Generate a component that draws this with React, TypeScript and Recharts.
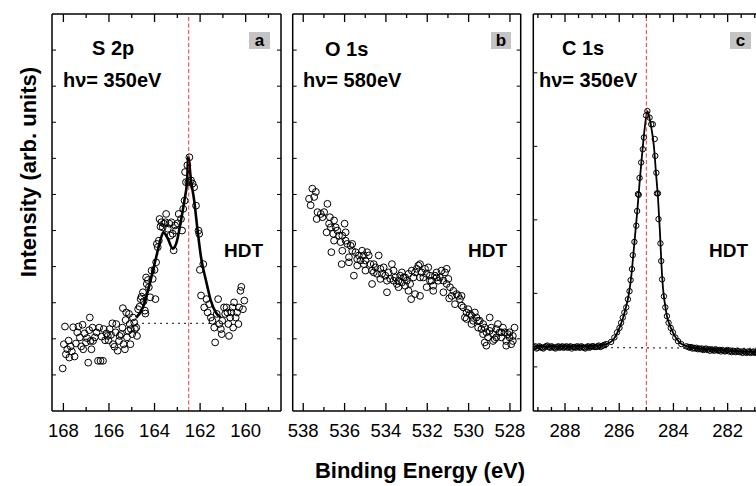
import React from 'react';
import { ComposedChart, Scatter, Line, XAxis, YAxis, ReferenceLine } from 'recharts';

const FONT = '"Liberation Sans", Arial, Helvetica, sans-serif';

// ---------- Panel a : S 2p ----------
const S2P_POINTS: number[][] = [
  [168.03,1.18],[167.98,1.85],[167.93,2.34],[167.89,1.57],[167.83,1.71],[167.77,1.95],[167.74,1.48],[167.68,1.79],[167.63,1.65],[167.57,2.32],
  [167.51,1.51],[167.45,1.87],[167.39,2.18],[167.34,2.34],[167.28,2.04],[167.22,1.79],[167.16,2.39],[167.13,1.71],[167.07,2.15],[167.01,1.90],
  [166.96,2.02],[166.91,1.34],[166.87,2.24],[166.84,2.59],[166.81,1.94],[166.77,1.71],[166.72,2.31],[166.70,1.94],[166.62,2.04],[166.55,2.18],
  [166.48,1.39],[166.43,2.31],[166.37,1.39],[166.32,2.06],[166.26,1.39],[166.23,2.27],[166.17,1.96],[166.11,2.15],[166.05,2.08],[166.02,1.96],
  [165.97,2.27],[165.91,2.11],[165.85,2.43],[165.82,1.85],[165.76,1.78],[165.71,2.18],[165.68,2.41],[165.62,1.67],[165.56,1.94],[165.53,2.08],
  [165.47,2.13],[165.41,2.31],[165.39,2.85],[165.36,1.85],[165.30,1.71],[165.27,2.52],[165.24,2.73],[165.21,2.04],[165.15,2.22],[165.12,2.69],
  [165.09,2.41],[165.06,1.85],[165.04,2.27],[164.98,2.13],[164.95,2.59],[164.89,2.45],[164.86,2.27],[164.80,2.31],[164.77,2.08],
  [164.72,2.82],[164.66,2.89],[164.61,3.10],[164.57,3.17],[164.51,3.29],[164.48,3.04],[164.42,2.78],[164.40,2.70],[164.37,3.70],[164.34,3.52],
  [164.29,3.63],[164.25,3.43],[164.19,3.15],[164.13,3.89],[164.08,3.66],[164.00,3.91],[163.96,3.10],[163.93,4.12],[163.90,4.63],[163.86,4.54],
  [163.81,4.72],[163.78,5.32],[163.74,5.11],[163.70,5.23],[163.64,5.09],[163.58,5.19],[163.52,5.23],[163.49,5.46],[163.42,5.05],[163.35,5.19],
  [163.30,4.86],[163.26,5.23],[163.20,4.91],[163.16,4.45],[163.10,5.14],[163.06,5.00],[162.98,5.20],[162.94,5.46],[162.84,5.32],[162.79,5.00],
  [162.74,5.60],[162.68,5.83],[162.66,6.62],[162.62,6.34],[162.56,6.81],[162.52,6.34],[162.47,7.03],[162.40,6.39],[162.33,6.30],[162.26,6.20],
  [162.18,5.69],[162.07,5.00],[162.04,4.91],[161.86,4.07],[162.01,3.91],[161.96,3.20],[161.82,2.87],[161.72,3.10],[161.67,2.73],[161.60,2.96],
  [161.53,2.59],[161.46,2.50],[161.38,2.31],[161.34,1.90],[161.27,2.69],[161.21,3.10],[161.16,2.41],[161.09,2.27],[161.05,2.13],[161.03,2.50],
  [160.95,2.87],[160.90,2.69],[160.84,2.87],[160.80,2.73],[160.76,2.41],[160.73,2.08],[160.68,2.59],[160.63,2.73],[160.58,2.87],[160.55,2.31],
  [160.51,3.01],[160.44,2.59],[160.38,2.73],[160.32,2.41],[160.29,2.87],[160.23,3.33],[160.19,3.44],[160.12,2.82],[160.06,3.06],
];
const S2P_FIT: number[][] = [
  [164.80,2.59],[164.51,2.87],[164.29,3.33],[164.07,3.89],[163.86,4.44],[163.71,4.81],[163.61,4.95],[163.42,4.78],[163.20,4.50],[163.03,4.68],
  [162.84,5.28],[162.69,5.83],[162.57,6.39],[162.52,7.04],[162.40,6.39],[162.26,5.83],[162.11,5.00],[161.96,4.26],[161.74,3.61],[161.53,3.06],
  [161.31,2.73],[161.09,2.59],
];
const S2P_BASE: number[][] = [[164.8,2.43],[161.1,2.43]];
const S2P_TICKS = [168,167,166,165,164,163,162,161,160,159];

// ---------- Panel b : O 1s ----------
const O1S_POINTS: number[][] = [
  [537.56,6.16],[537.39,6.07],[537.72,5.88],[537.47,5.93],[537.64,5.70],[537.31,5.51],[537.15,5.46],[536.99,5.51],[537.35,5.32],[537.07,5.37],
  [536.83,5.74],[536.71,5.37],[536.87,4.95],[536.67,5.09],[536.55,4.91],[536.35,5.00],[536.27,4.86],[536.51,4.72],[536.19,4.68],[536.00,5.19],
  [535.95,4.95],[536.64,4.40],[536.11,4.44],[535.87,4.63],[535.71,4.58],[535.63,4.44],[535.79,4.26],[535.47,4.40],[535.31,4.31],[535.23,4.17],
  [535.15,4.44],[534.91,4.40],[534.83,4.31],[536.14,4.07],[535.79,4.12],[535.55,3.75],[535.39,4.03],[535.07,4.07],[534.99,3.89],[534.75,4.07],
  [534.67,3.89],[534.59,3.84],[534.35,4.31],[534.43,3.80],[534.27,3.66],[534.67,3.52],[534.11,3.98],[534.03,3.75],[533.95,3.61],[533.87,3.84],
  [533.79,3.66],[533.71,4.07],[533.63,3.89],[533.55,3.70],[533.95,3.29],[533.47,3.52],[533.39,3.61],[533.31,3.75],[533.23,3.84],[533.15,3.70],
  [533.07,3.47],[532.99,3.61],[532.91,3.33],[532.83,3.52],[532.78,3.10],[532.67,3.70],[532.59,3.84],[532.51,3.94],[532.43,4.03],[532.35,4.07],
  [532.27,3.84],[532.19,3.70],[532.11,3.94],[532.03,3.80],[531.95,3.98],[531.87,3.75],[531.79,3.61],[531.71,3.47],[531.63,3.75],[531.55,3.84],
  [531.47,3.61],[531.39,3.70],[531.31,3.89],[531.22,3.61],[531.14,3.84],[531.06,3.94],[530.98,3.66],[532.59,3.24],[532.35,3.19],[532.03,3.43],
  [531.71,3.33],[531.22,3.29],[530.90,3.43],[530.82,3.19],[530.74,3.33],[530.66,2.96],[530.58,3.24],[530.50,3.19],[530.42,3.10],[530.34,3.19],
  [530.26,2.87],[530.18,2.59],[530.10,2.73],[530.02,2.82],[529.94,2.69],[529.86,2.41],[529.78,2.50],[529.70,2.73],[529.62,2.59],[529.54,2.31],
  [529.46,2.50],[529.38,2.27],[529.30,2.13],[529.22,2.31],[529.14,2.18],[529.06,2.04],[528.98,2.59],[528.90,2.31],[528.82,2.13],[528.74,1.99],
  [528.66,2.27],[528.58,2.41],[528.50,2.18],[528.42,2.04],[528.34,2.31],[528.26,2.18],[528.18,1.94],[528.10,2.13],[528.02,2.04],[527.94,1.85],
  [527.86,2.08],[527.78,2.31],[529.22,1.90],[528.82,1.94],[527.86,1.94],[529.14,1.81],[528.18,1.81],
  [536.51,5.28],[536.75,5.19],[536.43,5.09],[536.11,4.86],[535.95,4.72],[535.63,4.63],[535.39,4.21],[535.07,4.31],[534.99,4.17],[534.59,4.07],
  [534.51,3.98],[534.27,3.94],[534.19,3.80],[533.63,3.61],[533.39,3.43],[533.23,3.56],[533.07,3.70],[532.91,3.80],[532.75,3.89],[532.35,3.70],
  [531.87,3.61],[531.55,3.70],[531.06,3.52],[530.94,3.12],[530.34,2.92],[530.10,2.55],[529.86,2.64],[529.54,2.50],[529.30,2.41],[528.98,2.22],
  [528.66,2.04],[528.42,2.18],[528.02,2.18],
];
const O1S_TICKS = [538,537,536,535,534,533,532,531,530,529,528];

// ---------- Panel c : C 1s ----------
const C1S_POINTS: number[][] = [
  [289.15,0.27],[289.10,0.28],[289.05,0.25],[289.00,0.26],[288.95,0.28],[288.90,0.27],[288.85,0.26],[288.80,0.25],[288.75,0.27],[288.70,0.28],
  [288.65,0.29],[288.60,0.27],[288.55,0.26],[288.50,0.28],[288.45,0.27],[288.40,0.26],[288.35,0.25],[288.30,0.27],[288.25,0.28],[288.20,0.26],
  [288.15,0.27],[288.10,0.28],[288.05,0.26],[288.00,0.27],[287.95,0.28],[287.90,0.26],[287.85,0.27],[287.80,0.28],[287.75,0.25],[287.70,0.27],
  [287.65,0.27],[287.60,0.26],[287.55,0.28],[287.50,0.27],[287.45,0.26],[287.40,0.28],[287.35,0.27],[287.30,0.26],[287.25,0.25],[287.20,0.27],
  [287.15,0.28],[287.10,0.26],[287.05,0.27],[287.00,0.28],[286.95,0.28],[286.90,0.27],[286.85,0.27],[286.80,0.28],[286.75,0.29],[286.70,0.27],
  [286.65,0.28],[286.60,0.29],[286.55,0.30],
  [286.48,0.31],[286.30,0.34],[286.18,0.40],[286.08,0.47],[285.99,0.53],[285.93,0.60],[285.87,0.67],[285.81,0.74],[285.74,0.81],[285.68,0.92],
  [285.62,1.03],[285.58,1.18],[285.53,1.33],[285.50,1.52],[285.44,1.70],[285.37,1.92],[285.34,2.12],[285.28,2.34],[285.31,2.35],[285.25,2.57],
  [285.19,2.78],[285.13,2.96],[285.09,3.12],[285.01,3.42],[284.96,3.48],[284.88,3.39],[284.82,3.30],[284.76,3.30],[284.69,3.10],[284.67,2.87],
  [284.63,2.64],[284.57,2.36],[284.61,2.36],[284.55,2.01],[284.48,1.68],[284.45,1.44],[284.42,1.19],[284.35,0.96],[284.30,0.81],[284.24,0.69],
  [284.18,0.60],[284.10,0.53],[284.02,0.47],[283.93,0.40],[283.83,0.35],[283.71,0.31],[283.52,0.28],
  [283.45,0.27],[283.40,0.26],[283.35,0.27],[283.30,0.25],[283.25,0.26],[283.20,0.25],[283.15,0.26],[283.10,0.24],[283.05,0.25],[283.00,0.24],
  [282.95,0.25],[282.90,0.23],[282.85,0.24],[282.80,0.25],[282.75,0.23],[282.70,0.24],[282.65,0.22],[282.60,0.24],[282.55,0.23],[282.50,0.22],
  [282.45,0.24],[282.40,0.23],[282.35,0.22],[282.30,0.23],[282.25,0.21],[282.20,0.23],[282.15,0.22],[282.10,0.21],[282.05,0.22],[282.00,0.23],
  [281.95,0.21],[281.90,0.22],[281.85,0.20],[281.80,0.22],[281.75,0.21],[281.70,0.20],[281.65,0.22],[281.60,0.21],[281.55,0.20],[281.50,0.21],
  [281.45,0.19],[281.40,0.21],[281.35,0.20],[281.30,0.19],[281.25,0.21],[281.20,0.20],[281.15,0.19],[281.10,0.20],[281.05,0.21],[281.00,0.19],
  [280.95,0.20],[280.90,0.19],[280.85,0.20],
];
const C1S_FIT: number[][] = [
  [289.17,0.28],[288,0.28],[287,0.285],[286.6,0.30],[286.4,0.32],[286.2,0.38],[286.05,0.48],[285.9,0.62],[285.78,0.77],[285.65,0.98],
  [285.55,1.25],[285.45,1.65],[285.35,2.05],[285.25,2.50],[285.15,2.92],[285.05,3.28],[284.96,3.48],[284.88,3.38],[284.8,3.22],[284.72,3.00],
  [284.64,2.62],[284.57,2.30],[284.5,1.85],[284.44,1.38],[284.38,1.05],[284.31,0.85],[284.24,0.69],[284.15,0.58],[284.02,0.47],[283.88,0.38],
  [283.7,0.31],[283.4,0.27],[283,0.25],[282.5,0.23],[282,0.22],[281.5,0.21],[280.74,0.20],
];
const C1S_BASE: number[][] = [[289.17,0.27],[280.74,0.25]];
const C1S_TICKS = [289,288.5,288,287.5,287,286.5,286,285.5,285,284.5,284,283.5,283,282.5,282,281.5,281];

const AB_YTICKS = [1,2,3,4,5,6,7,8,9,10];
const C_YTICKS = [0,1,2,3,4];

const toPts = (arr: number[][]) => arr.map(([x, y]) => ({ x, y }));

const PLOT_TOP = 14;
const PLOT_BOTTOM = 411;
const H = 486;

type PanelCfg = {
  chartW: number;
  left: number;
  right: number;
  domain: [number, number];
  yDomain: [number, number];
  xTicks: number[];
  yTicks: number[];
  majorStep: number;
  points: { x: number; y: number }[];
  fit?: { x: number; y: number }[];
  base?: { x: number; y: number }[];
  marker?: number;
  r: number;
  fitWidth: number;
};

const isMajor = (v: number, step: number) => Math.abs(v / step - Math.round(v / step)) < 1e-6;

function makeBottomTick(step: number) {
  return (props: any) => {
    const { x, payload } = props;
    const y = PLOT_BOTTOM;
    const major = isMajor(payload.value, step);
    return (
      <g>
        <line x1={x} x2={x} y1={y} y2={y - (major ? 8 : 4)} stroke="#000" strokeWidth={1.3} />
        {major && (
          <text x={x} y={y + 26} textAnchor="middle" fontSize={18.5} fontFamily={FONT} fill="#000">
            {payload.value}
          </text>
        )}
      </g>
    );
  };
}
function makeTopTick(step: number) {
  return (props: any) => {
    const { x, payload } = props;
    const y = PLOT_TOP;
    const major = isMajor(payload.value, step);
    return <line x1={x} x2={x} y1={y} y2={y + (major ? 8 : 4)} stroke="#000" strokeWidth={1.3} />;
  };
}
function makeSideTick(edge: number, dir: number) {
  return (props: any) => {
    const { y } = props;
    return <line x1={edge} x2={edge + dir * 4} y1={y} y2={y} stroke="#000" strokeWidth={1} />;
  };
}

function Panel({ cfg }: { cfg: PanelCfg }) {
  const axisLine = { stroke: '#000', strokeWidth: 1.5 };
  return (
    <div style={{ position: 'absolute', left: 0, top: 0 }}>
      <ComposedChart
        width={cfg.chartW}
        height={H}
        margin={{ top: PLOT_TOP - 1, bottom: H - PLOT_BOTTOM - 1, left: cfg.left - 1, right: cfg.chartW - cfg.right - 1 }}
      >
        <XAxis xAxisId="b" type="number" dataKey="x" domain={cfg.domain} reversed allowDataOverflow
          ticks={cfg.xTicks} interval={0} tickLine={false} height={1}
          axisLine={axisLine} tick={makeBottomTick(cfg.majorStep)} />
        <XAxis xAxisId="t" orientation="top" type="number" dataKey="x" domain={cfg.domain} reversed allowDataOverflow
          ticks={cfg.xTicks} interval={0} tickLine={false} height={1}
          axisLine={axisLine} tick={makeTopTick(cfg.majorStep)} />
        <YAxis yAxisId="l" type="number" dataKey="y" domain={cfg.yDomain} allowDataOverflow
          ticks={cfg.yTicks} interval={0} tickLine={false} width={1}
          axisLine={axisLine} tick={makeSideTick(cfg.left, 1)} />
        <YAxis yAxisId="r" orientation="right" type="number" dataKey="y" domain={cfg.yDomain} allowDataOverflow
          ticks={cfg.yTicks} interval={0} tickLine={false} width={1}
          axisLine={axisLine} tick={makeSideTick(cfg.right, -1)} />
        {cfg.base && (
          <Line xAxisId="b" yAxisId="l" data={cfg.base} dataKey="y" type="linear" stroke="#000"
            strokeWidth={1.3} strokeDasharray="1.5 4.5" dot={false} isAnimationActive={false} />
        )}
        <Scatter xAxisId="b" yAxisId="l" data={cfg.points} isAnimationActive={false}
          shape={(p: any) => <circle cx={p.cx} cy={p.cy} r={cfg.r} fill="none" stroke="#000" strokeWidth={1} />} />
        {cfg.fit && (
          <Line xAxisId="b" yAxisId="l" data={cfg.fit} dataKey="y" type="monotone" stroke="#000"
            strokeWidth={cfg.fitWidth} dot={false} isAnimationActive={false} />
        )}
        {cfg.marker !== undefined && (
          <ReferenceLine xAxisId="b" yAxisId="l" x={cfg.marker} stroke="#e8393c" strokeWidth={1}
            strokeDasharray="4 2.5" />
        )}
      </ComposedChart>
    </div>
  );
}

const panelA: PanelCfg = {
  chartW: 756, left: 52, right: 281, domain: [158.45, 168.5], yDomain: [0, 11],
  xTicks: S2P_TICKS, yTicks: AB_YTICKS, majorStep: 2,
  points: toPts(S2P_POINTS), fit: toPts(S2P_FIT), base: toPts(S2P_BASE), marker: 162.5, r: 3.4, fitWidth: 2.6,
};
const panelB: PanelCfg = {
  chartW: 756, left: 292.7, right: 520.7, domain: [527.48, 538.51], yDomain: [0, 11],
  xTicks: O1S_TICKS, yTicks: AB_YTICKS, majorStep: 2,
  points: toPts(O1S_POINTS), r: 3.4, fitWidth: 2,
};
const panelC: PanelCfg = {
  chartW: 800, left: 533.3, right: 761.8, domain: [280.74, 289.17], yDomain: [-0.6, 4.8],
  xTicks: C1S_TICKS, yTicks: C_YTICKS, majorStep: 2,
  points: toPts(C1S_POINTS), fit: toPts(C1S_FIT), base: toPts(C1S_BASE), marker: 285, r: 2.7, fitWidth: 1.8,
};

const bold = { fontFamily: FONT, fontWeight: 700 as const, fill: '#000' };

export default function App() {
  return (
    <div style={{ position: 'absolute', left: 0, top: 0, width: 756, height: 486, overflow: 'hidden', background: '#fff' }}>
      <Panel cfg={panelA} />
      <Panel cfg={panelB} />
      <Panel cfg={panelC} />
      <svg width={756} height={486} style={{ position: 'absolute', left: 0, top: 0, pointerEvents: 'none' }}>
        <text x={92} y={55} fontSize={20} {...bold}>S 2p</text>
        <text x={63} y={87} fontSize={20} {...bold}>hν= 350eV</text>
        <text x={325} y={56} fontSize={20} {...bold}>O 1s</text>
        <text x={303} y={87} fontSize={20} {...bold}>hν= 580eV</text>
        <text x={562} y={55} fontSize={20} {...bold}>C 1s</text>
        <text x={539} y={87} fontSize={20} {...bold}>hν= 350eV</text>
        <text x={224} y={257} fontSize={19} {...bold}>HDT</text>
        <text x={468} y={257} fontSize={19} {...bold}>HDT</text>
        <text x={709} y={257} fontSize={19} {...bold}>HDT</text>
        <rect x={249} y={32} width={21} height={17} fill="#c4c4c4" />
        <text x={259.5} y={46} fontSize={17} textAnchor="middle" {...bold}>a</text>
        <rect x={491} y={32} width={20} height={17} fill="#c4c4c4" />
        <text x={501} y={46} fontSize={17} textAnchor="middle" {...bold}>b</text>
        <rect x={730} y={32} width={21} height={17} fill="#c4c4c4" />
        <text x={740.5} y={46} fontSize={17} textAnchor="middle" {...bold}>c</text>
        <text x={420} y={478} fontSize={22} textAnchor="middle" {...bold}>Binding Energy (eV)</text>
        <text x={36} y={172} fontSize={22} textAnchor="middle" transform="rotate(-90 36 172)" {...bold}>Intensity (arb. units)</text>
      </svg>
    </div>
  );
}
